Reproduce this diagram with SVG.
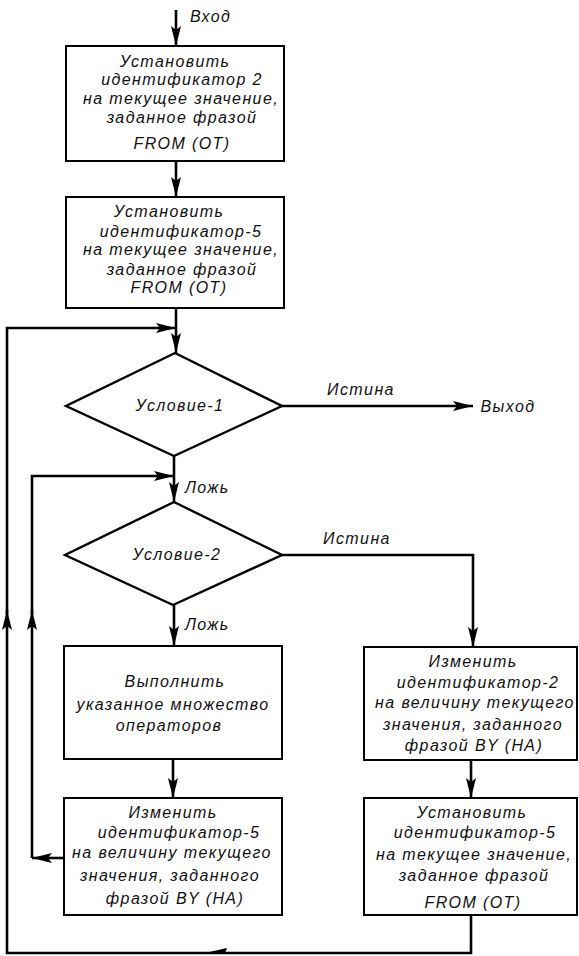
<svg xmlns="http://www.w3.org/2000/svg" width="579" height="956" viewBox="0 0 579 956">
<style>
.box{fill:#fff;stroke:#000;stroke-width:2}
.dia{fill:#fff;stroke:#000;stroke-width:2.4}
.con{fill:none;stroke:#000;stroke-width:2.6}
text{font-family:"Liberation Sans",Arial,sans-serif;font-style:italic;font-size:16px;letter-spacing:1.4px;fill:#111}
.c{text-anchor:middle}
</style>
<defs>
<marker id="ah" markerUnits="userSpaceOnUse" viewBox="0 0 20 10" markerWidth="20" markerHeight="10" refX="20" refY="5" orient="auto">
<path d="M0,0 L20,5 L0,10 L4,5 z" fill="#000"/>
</marker>
</defs>
<rect width="579" height="956" fill="#fff"/>
<g id="connectors">
<path class="con" d="M176,10 V46" marker-end="url(#ah)"/>
<path class="con" d="M176,161 V197" marker-end="url(#ah)"/>
<path class="con" d="M176,308 V353" marker-end="url(#ah)"/>
<path class="con" d="M471,915 V953 H7 V610" marker-end="url(#ah)"/>
<path class="con" d="M7,614 V328 H176" marker-end="url(#ah)"/>
<polygon points="205,953 227,948 225,953" fill="#000"/>
<path class="con" d="M282,406 H473" marker-end="url(#ah)"/>
<path class="con" d="M174,456 V502" marker-end="url(#ah)"/>
<path class="con" d="M64,858 H32" marker-end="url(#ah)"/>
<path class="con" d="M32,858 V610" marker-end="url(#ah)"/>
<path class="con" d="M32,614 V476 H174" marker-end="url(#ah)"/>
<path class="con" d="M174,605 V646" marker-end="url(#ah)"/>
<path class="con" d="M173,759 V798" marker-end="url(#ah)"/>
<path class="con" d="M282,555 H473 V647" marker-end="url(#ah)"/>
<path class="con" d="M471,760 V798" marker-end="url(#ah)"/>
</g>
<g id="labels">
<text x="190" y="22" fill="#444">Вход</text>
<text class="c" x="361" y="395">Истина</text>
<text class="c" x="508" y="412">Выход</text>
<text x="185" y="493">Ложь</text>
<text class="c" x="357" y="544">Истина</text>
<text x="185" y="630">Ложь</text>
</g>
<g id="box1">
<rect class="box" x="66" y="46" width="218" height="115"/>
<text class="c" x="175" y="67">Установить</text>
<text class="c" x="182" y="85">идентификатор 2</text>
<text class="c" x="181" y="104">на текущее значение,</text>
<text class="c" x="182" y="123">заданное фразой</text>
<text class="c" x="182" y="149">FROM (ОТ)</text>
</g>
<g id="box2">
<rect class="box" x="66" y="197" width="218" height="111"/>
<text class="c" x="169" y="217">Установить</text>
<text class="c" x="181" y="237">идентификатор-5</text>
<text class="c" x="181" y="255">на текущее значение,</text>
<text class="c" x="182" y="275">заданное фразой</text>
<text class="c" x="179" y="293">FROM (ОТ)</text>
</g>
<g id="cond1">
<polygon class="dia" points="175,353 282,406 174,456 66,406"/>
<text class="c" x="180" y="411">Условие-1</text>
</g>
<g id="cond2">
<polygon class="dia" points="174,502 282,555 173,605 65,555"/>
<text class="c" x="177" y="560">Условие-2</text>
</g>
<g id="box3">
<rect class="box" x="64" y="646" width="218" height="113"/>
<text class="c" x="175" y="687">Выполнить</text>
<text class="c" x="173" y="710">указанное множество</text>
<text class="c" x="169" y="731">операторов</text>
</g>
<g id="box4">
<rect class="box" x="64" y="798" width="218" height="117"/>
<text class="c" x="173" y="818">Изменить</text>
<text class="c" x="179" y="838">идентификатор-5</text>
<text class="c" x="172" y="858">на величину текущего</text>
<text class="c" x="170" y="881">значения, заданного</text>
<text class="c" x="175" y="904">фразой BY (НА)</text>
</g>
<g id="box5">
<rect class="box" x="364" y="647" width="213" height="113"/>
<text class="c" x="473" y="667">Изменить</text>
<text class="c" x="478" y="688">идентификатор-2</text>
<text class="c" x="475" y="708">на величину текущего</text>
<text class="c" x="473" y="730">значения, заданного</text>
<text class="c" x="474" y="751">фразой BY (НА)</text>
</g>
<g id="box6">
<rect class="box" x="364" y="798" width="213" height="117"/>
<text class="c" x="472" y="818">Установить</text>
<text class="c" x="475" y="838">идентификатор-5</text>
<text class="c" x="474" y="860">на текущее значение,</text>
<text class="c" x="474" y="881">заданное фразой</text>
<text class="c" x="473" y="908">FROM (ОТ)</text>
</g>
</svg>
